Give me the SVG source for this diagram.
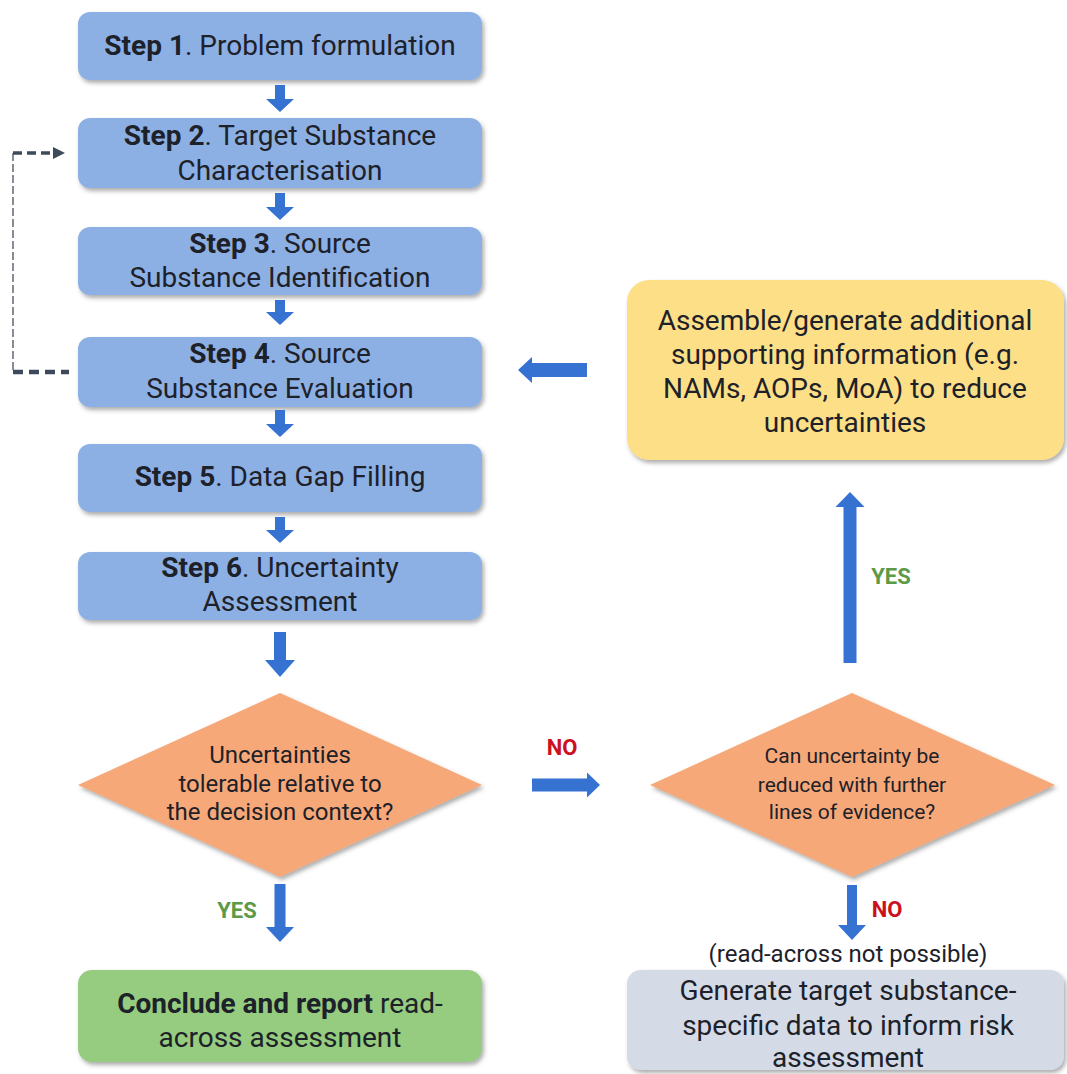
<svg xmlns="http://www.w3.org/2000/svg" width="1067" height="1074" viewBox="0 0 1067 1074">
<defs>
<filter id="sh" x="-10%" y="-10%" width="125%" height="130%">
<feDropShadow dx="2" dy="3" stdDeviation="2.2" flood-color="#4a4a4a" flood-opacity="0.45"/>
</filter>
<style>
text{font-family:Roboto,"Liberation Sans",sans-serif;fill:#1d2129;text-anchor:middle}
.step{fill:#8db0e4;filter:url(#sh)}
.st{font-size:28px}
.b{font-weight:bold}
.dia{fill:#f6a878;filter:url(#sh)}
.dt{font-size:21px}
.dt1{font-size:24px}
.big{font-size:28px}
.arr{fill:#3572d2}
.yes{font-size:22px;font-weight:bold;fill:#5d9a47}
.no{font-size:22px;font-weight:bold;fill:#cc1020}
</style>
</defs>
<rect width="1067" height="1074" fill="#ffffff"/>

<g id="step1"><rect class="step" x="78" y="12" width="404" height="68" rx="12"/>
<text class="st" x="280" y="55"><tspan class="b">Step 1</tspan>. Problem formulation</text></g>

<g id="step2"><rect class="step" x="78" y="118" width="404" height="70" rx="12"/>
<text class="st" x="280" y="145"><tspan class="b">Step 2</tspan>. Target Substance</text>
<text class="st" x="280" y="180">Characterisation</text></g>

<g id="step3"><rect class="step" x="78" y="227" width="404" height="68" rx="12"/>
<text class="st" x="280" y="253"><tspan class="b">Step 3</tspan>. Source</text>
<text class="st" x="280" y="287">Substance  Identification</text></g>

<g id="step4"><rect class="step" x="78" y="337" width="404" height="70" rx="12"/>
<text class="st" x="280" y="363"><tspan class="b">Step 4</tspan>. Source</text>
<text class="st" x="280" y="398">Substance  Evaluation</text></g>

<g id="step5"><rect class="step" x="78" y="444" width="404" height="68" rx="12"/>
<text class="st" x="280" y="486"><tspan class="b">Step 5</tspan>. Data Gap Filling</text></g>

<g id="step6"><rect class="step" x="78" y="552" width="404" height="68" rx="12"/>
<text class="st" x="280" y="577"><tspan class="b">Step 6</tspan>. Uncertainty</text>
<text class="st" x="280" y="611">Assessment</text></g>

<g id="decision1"><polygon class="dia" points="280,693 482,785 280,877 78,785"/>
<text class="dt1" x="280" y="763">Uncertainties</text>
<text class="dt1" x="280" y="792">tolerable relative to</text>
<text class="dt1" x="280" y="820">the decision context?</text></g>

<g id="decision2"><polygon class="dia" points="852,693 1055,785 852,877 650,785"/>
<text class="dt" x="852" y="763">Can uncertainty be</text>
<text class="dt" x="852" y="792">reduced with further</text>
<text class="dt" x="852" y="819">lines of evidence?</text></g>

<g id="supporting"><rect x="627" y="280" width="437" height="180" rx="22" fill="#fcdf86" filter="url(#sh)"/>
<text class="big" x="845" y="330">Assemble/generate additional</text>
<text class="big" x="845" y="364">supporting information (e.g.</text>
<text class="big" x="845" y="398">NAMs, AOPs, MoA) to reduce</text>
<text class="big" x="845" y="432">uncertainties</text></g>

<g id="conclude"><rect x="78" y="970" width="404" height="92" rx="14" fill="#95cc7f" filter="url(#sh)"/>
<text class="st" x="280" y="1013"><tspan class="b">Conclude and report</tspan> read-</text>
<text class="st" x="280" y="1047">across assessment</text></g>

<g id="generate"><rect x="627" y="970" width="437" height="100" rx="14" fill="#d5dbe6" filter="url(#sh)"/>
<text class="big" x="848" y="1000">Generate target substance-</text>
<text class="big" x="848" y="1035">specific data to inform risk</text>
<text class="big" x="848" y="1067">assessment</text></g>

<g id="connectors">
<path class="arr" d="M275,85 H285 V99 H294 L280,112 L266,99 H275 Z"/>
<path class="arr" d="M275,193 H285 V207 H294 L280,220 L266,207 H275 Z"/>
<path class="arr" d="M275,300 H285 V312 H294 L280,325 L266,312 H275 Z"/>
<path class="arr" d="M275,410 H285 V424 H294 L280,437 L266,424 H275 Z"/>
<path class="arr" d="M275,517 H285 V530 H294 L280,543 L266,530 H275 Z"/>
<path class="arr" d="M274,632 H286 V660 H295 L280,677 L265,660 H274 Z"/>
<path class="arr" d="M274.5,884 H285.5 V927 H294 L280,942 L266,927 H274.5 Z"/>
<path class="arr" d="M532,778.5 V791.5 H587 V797.5 L600,785 L587,772.5 V778.5 Z"/>
<path class="arr" d="M587,363 V377 H532 V383 L518,370 L532,357 V363 Z"/>
<path class="arr" d="M843.5,663 H856.5 V507 H864.5 L850,492 L835.5,507 H843.5 Z"/>
<path class="arr" d="M847,885 H857 V925 H866 L852,940 L838,925 H847 Z"/>
<line x1="13" y1="153" x2="13" y2="372" stroke="#6a717c" stroke-width="1.6" stroke-dasharray="8 3"/>
<line x1="13" y1="153" x2="55" y2="153" stroke="#3d4a5c" stroke-width="3.5" stroke-dasharray="9 5"/>
<polygon points="53,147 65,153 53,159" fill="#3d4a5c"/>
<line x1="13" y1="372" x2="69" y2="372" stroke="#3d4a5c" stroke-width="4.5" stroke-dasharray="10 6"/>
<text class="yes" x="237" y="918">YES</text>
<text class="no" x="562" y="755">NO</text>
<text class="yes" x="891" y="584">YES</text>
<text class="no" x="887" y="917">NO</text>
<text class="dt1" x="848" y="962">(read-across not possible)</text>
</g>
</svg>
